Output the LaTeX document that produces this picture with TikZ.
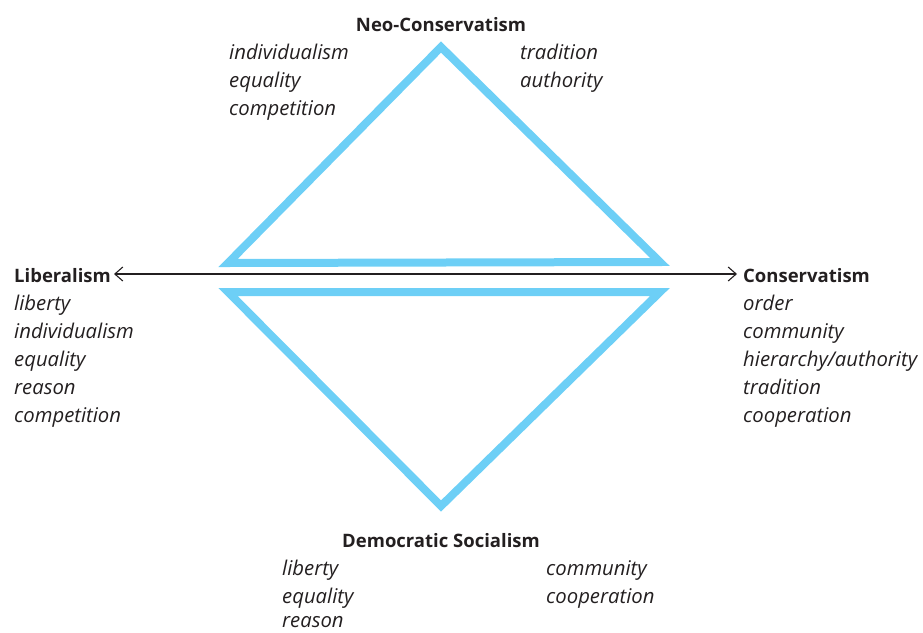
\documentclass[tikz,border=0pt]{standalone}
\usepackage{fontspec}
\setmainfont{Open Sans}
\usetikzlibrary{arrows.meta}
\definecolor{tri}{HTML}{6DCFF6}
\definecolor{ink}{HTML}{231F20}
\tikzset{
  head/.style={font=\fontsize{18.5}{22}\selectfont\bfseries, text=ink, inner sep=0pt},
  item/.style={font=\fontsize{20.3}{22}\selectfont\itshape, text=ink, inner sep=0pt, anchor=base west},
  tribox/.style={draw=tri, line width=8pt, miter limit=10, line join=miter},
  axis/.style={draw=ink, line width=1.1pt, {Straight Barb[length=8pt,width=14pt]}-{Straight Barb[length=8pt,width=14pt]}}
}
\begin{document}
\begin{tikzpicture}[x=1pt,y=-1pt]
\useasboundingbox (0,0) rectangle (923,632);
% triangles
\draw[tribox] (441,47) -- (660,262) -- (228,263) -- cycle;
\draw[tribox] (228,292) -- (660,292) -- (441,506) -- cycle;
% headings
\node[head, anchor=base] (neo) at (441,31) {Neo-Conservatism};
\node[head, anchor=base west] (lib) at (14,282) {Liberalism};
\node[head, anchor=base west] (con) at (743,282) {Conservatism};
\node[head, anchor=base] (dem) at (441,547) {Democratic Socialism};
% axis
\coordinate (al) at (114,274);
\coordinate (ar) at (737,274);
\draw[axis] (al) -- (ar);
% neo lists
\node[item] (n1) at (229,59) {individualism};
\node[item] (n2) at (229,87) {equality};
\node[item] (n3) at (229,115) {competition};
\node[item] (n4) at (520,59) {tradition};
\node[item] (n5) at (520,87) {authority};
% liberalism
\node[item] (l1) at (14,310) {liberty};
\node[item] (l2) at (14,338) {individualism};
\node[item] (l3) at (14,366) {equality};
\node[item] (l4) at (14,394) {reason};
\node[item] (l5) at (14,422) {competition};
% conservatism
\node[item] (c1) at (743,310) {order};
\node[item] (c2) at (743,338) {community};
\node[item] (c3) at (743,366) {hierarchy/authority};
\node[item] (c4) at (743,394) {tradition};
\node[item] (c5) at (743,422) {cooperation};
% democratic socialism
\node[item] (d1) at (282,575) {liberty};
\node[item] (d2) at (282,603) {equality};
\node[item] (d3) at (282,627) {reason};
\node[item] (d4) at (546,575) {community};
\node[item] (d5) at (546,603) {cooperation};
\end{tikzpicture}
\end{document}
